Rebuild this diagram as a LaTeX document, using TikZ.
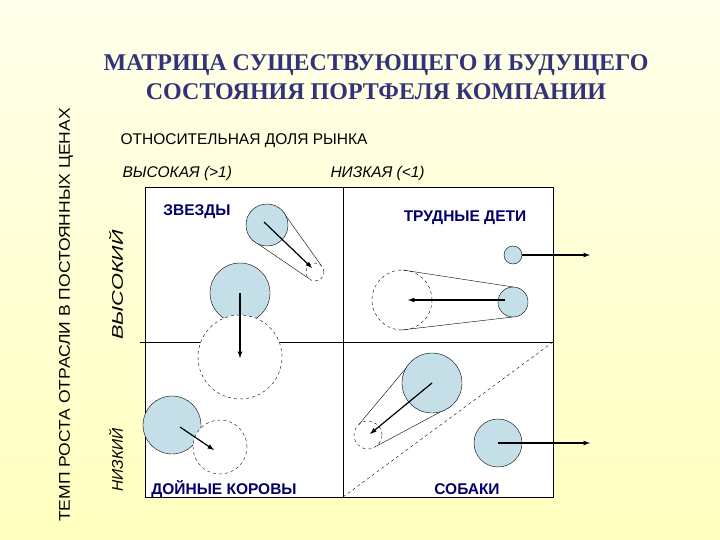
\documentclass[tikz,border=0pt]{standalone}
\usepackage{fontspec}
\setmainfont{Liberation Serif}
\setsansfont{Liberation Sans}
\usetikzlibrary{calc}
\begin{document}
\begin{tikzpicture}[x=1pt,y=-1pt,
  full/.style={circle,draw,fill=cyan!30!teal!25!white,inner sep=0},
  dcirc/.style={circle,draw,dashed,inner sep=0},
  arr/.style={-latex,line width=1.2pt},
  lab/.style={font=\sffamily\bfseries\fontsize{15.5}{16}\selectfont,text=blue!40!black},
  ax/.style={font=\sffamily\fontsize{15.5}{16}\selectfont},
  axi/.style={font=\sffamily\itshape\fontsize{15.5}{16}\selectfont}]
\shade[top color=yellow!8!white,bottom color=yellow!25!white] (0,0) rectangle (720,540);
\useasboundingbox (0,0) rectangle (720,540);
\node[font=\bfseries\fontsize{24}{29}\selectfont,text=blue!35!black!80,align=center] (title) at (376,77) {МАТРИЦА СУЩЕСТВУЮЩЕГО И БУДУЩЕГО\\СОСТОЯНИЯ ПОРТФЕЛЯ КОМПАНИИ};
\node[ax,anchor=west] (rel) at (117,141) {ОТНОСИТЕЛЬНАЯ ДОЛЯ РЫНКА};
\node[axi,anchor=west] (hi) at (119,173) {ВЫСОКАЯ (>1)};
\node[axi,anchor=west] (lo) at (327,173) {НИЗКАЯ (<1)};
\node[ax,rotate=90,xscale=1.13] (temp) at (66,315) {ТЕМП РОСТА ОТРАСЛИ В ПОСТОЯННЫХ ЦЕНАХ};
\node[axi,rotate=90,xscale=1.4] (vh) at (116,285) {ВЫСОКИЙ};
\node[axi,rotate=90] (vl) at (116,460) {НИЗКИЙ};
% frame
\fill[white] (145,187) rectangle (553,497);
\draw (145,187) rectangle (553,497);
\coordinate (vt) at (343,187); \coordinate (vb) at (343,497);
\coordinate (hl) at (140,342); \coordinate (hr) at (553,342);
\draw (vt) -- (vb); \draw (hl) -- (hr);
\draw[dashed] (vb) -- (hr);
\node[lab] (s) at (197,212) {ЗВЕЗДЫ};
\node[lab] (q) at (465,218) {ТРУДНЫЕ ДЕТИ};
\node[lab] (c) at (224,489) {ДОЙНЫЕ КОРОВЫ};
\node[lab] (d) at (467,489) {СОБАКИ};
% stars
\coordinate (a1) at (267,225); \coordinate (a2) at (315,272);
\draw ($(a1)!21pt!90:(a2)$) -- ($(a2)!9pt!-90:(a1)$);
\draw ($(a1)!21pt!-90:(a2)$) -- ($(a2)!9pt!90:(a1)$);
\node[full,minimum size=42] (A1) at (a1) {};
\node[dcirc,minimum size=18] (A2) at (a2) {};
\draw[arr] (264,222) -- (312,268);
% big star -> cow
\node[full,minimum size=60] (B1) at (240,293) {};
\node[dcirc,minimum size=84,fill=white] (B2) at (240,357) {};
\draw[arr] (B1.center) -- (240,358);
% cash cows
\node[full,minimum size=58] (C1) at (172,425) {};
\node[dcirc,minimum size=54,fill=white] (C2) at (220,447) {};
\draw[arr] (180,427) -- (214,450);
% question marks
\node[full,minimum size=18] (Q0) at (513,255) {};
\coordinate (q1) at (513,302); \coordinate (q2) at (402,300);
\draw ($(q1)!15pt!90:(q2)$) -- ($(q2)!30pt!-90:(q1)$);
\draw ($(q1)!15pt!-90:(q2)$) -- ($(q2)!30pt!90:(q1)$);
\node[dcirc,minimum size=60] (Q2) at (q2) {};
\node[full,minimum size=30] (Q1) at (q1) {};
\draw[arr] (505,300) -- (408,300);
\coordinate (qe) at (590,255);
\draw[arr] (Q0.east) -- (qe);
% dogs
\coordinate (d1) at (432,383); \coordinate (d2) at (368,435);
\draw ($(d1)!30pt!90:(d2)$) -- ($(d2)!14pt!-90:(d1)$);
\draw ($(d1)!30pt!-90:(d2)$) -- ($(d2)!14pt!90:(d1)$);
\node[full,minimum size=60] (D1) at (d1) {};
\node[dcirc,minimum size=28] (D2) at (d2) {};
\draw[arr] (d1) -- (370,434);
\node[full,minimum size=48] (D3) at (498,443) {};
\coordinate (de) at (590,443);
\draw[arr] (D3.center) -- (de);
\end{tikzpicture}
\end{document}
